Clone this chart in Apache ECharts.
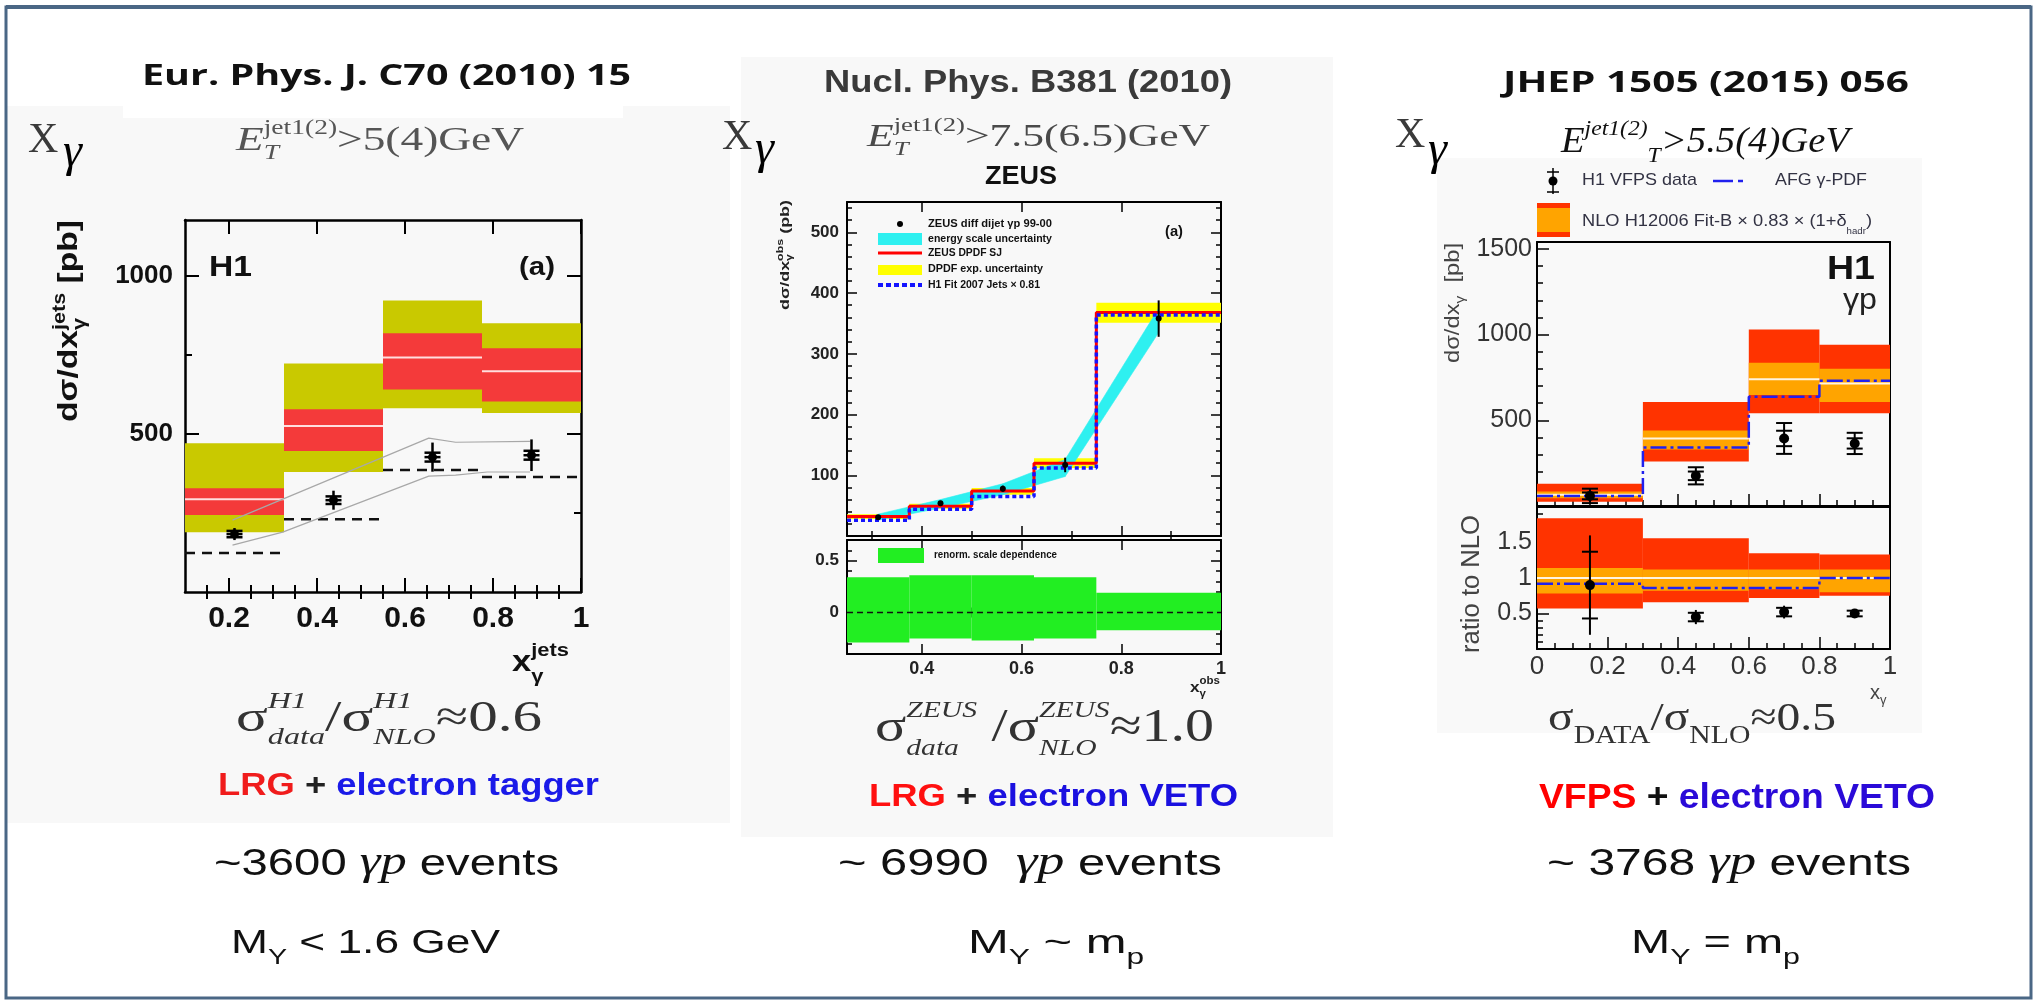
<!DOCTYPE html>
<html>
<head>
<meta charset="utf-8">
<script src="https://cdn.jsdelivr.net/npm/echarts@6/dist/echarts.min.js"></script>
<style>
  html, body { margin: 0; padding: 0; background: #fff; }
  #main { width: 2038px; height: 1002px; }
</style>
</head>
<body>
<div id="main"></div>
<script>
// ---- H1 2010 (EPJ C70) : d sigma / d x_gamma ----
const h1Edges = [0.1, 0.325, 0.55, 0.775, 1.0];
const h1TotLo = [189, 379, 580, 565];     // yellow band
const h1TotHi = [470, 722, 921, 849];
const h1ScaleLo = [243, 445, 640, 602];   // red band
const h1ScaleHi = [328, 577, 817, 770];
const h1Nlo = [293, 524, 741, 697];       // white central line
const h1Dashed = [123, 230, 385, 363];
const h1DataX = [0.2125, 0.4375, 0.6625, 0.8875];
const h1DataY = [183, 290, 426, 432];
const h1ErrTot = [19, 30, 46, 50];
const h1ErrStat = [10, 12, 14, 14];
const h1EnvUpX = [0.208, 0.654, 0.715, 0.884];
const h1EnvUpY = [227, 486, 473, 476];
const h1EnvDnX = [0.208, 0.322, 0.654, 0.715, 0.787, 0.884];
const h1EnvDnY = [148, 189, 366, 369, 379, 379];
const h1XTicks = [0.2, 0.4, 0.6, 0.8, 1];
const h1XMinor = [0.15, 0.25, 0.3, 0.35, 0.45, 0.5, 0.55, 0.65, 0.7, 0.75, 0.85, 0.9, 0.95];
const h1YTicks = [500, 1000];
const h1YMinor = [250, 750];

// ---- ZEUS (NPB 381) ----
const zEdges = [0.25, 0.375, 0.5, 0.625, 0.75, 1.0];
const zDpdf = [32, 49, 74, 120, 368];
const zH1Fit = [26, 44, 65, 112, 364];
const zDpdfLo = [28, 45, 68, 112, 351];
const zDpdfHi = [36, 53, 79, 128, 384];
const zCyanX = [0.3125, 0.4375, 0.5625, 0.6875, 0.875];
const zCyanLo = [26, 46, 68, 98, 335];
const zCyanHi = [36, 60, 86, 126, 375];
const zDataX = [0.3125, 0.4375, 0.5625, 0.6875, 0.875];
const zDataY = [31, 54, 78, 117, 358];
const zDataErr = [3, 4, 5, 12, 30];
const zRenLo = [-0.29, -0.25, -0.27, -0.25, -0.17];
const zRenHi = [0.34, 0.36, 0.36, 0.34, 0.19];
const zXTicks = [0.4, 0.6, 0.8, 1];
const zXMinor = [0.3, 0.5, 0.7, 0.9];
const zYTicks = [100, 200, 300, 400, 500];
const zYMinor = [20, 40, 60, 80, 120, 140, 160, 180, 220, 240, 260, 280, 320, 340, 360, 380, 420, 440, 460, 480, 520, 540];
const zRTicks = [0, 0.5];
const zRMinor = [-0.3, -0.2, -0.1, 0.1, 0.2, 0.3, 0.4, 0.6];

// ---- H1 VFPS (JHEP 1505) ----
const vEdges = [0, 0.3, 0.6, 0.8, 1.0];
const vRedLo = [25, 259, 541, 541];
const vRedHi = [130, 606, 1029, 941];
const vOrgLo = [45, 330, 647, 606];
const vOrgHi = [85, 441, 835, 800];
const vNlo = [65, 394, 740, 715];
const vAfg = [58, 341, 638, 730];
const vDataX = [0.15, 0.45, 0.7, 0.9];
const vDataY = [59, 176, 394, 365];
const vErrTot = [42, 50, 90, 62];
const vErrStat = [20, 25, 45, 30];
const vRatRedLo = [0.57, 0.66, 0.72, 0.75];
const vRatRedHi = [1.84, 1.56, 1.35, 1.33];
const vRatOrgLo = [0.78, 0.82, 0.84, 0.8];
const vRatOrgHi = [1.14, 1.12, 1.12, 1.12];
const vRatNlo = [1, 1, 1, 1];
const vRatAfg = [0.92, 0.86, 0.86, 1.0];
const vRatY = [0.9, 0.45, 0.52, 0.5];
const vRatErrTot = [0.7, 0.1, 0.09, 0.06];
const vRatErrStat = [0.47, 0.06, 0.06, 0.04];
const vXTicks = [0, 0.2, 0.4, 0.6, 0.8, 1];
const vXMinor = [0.05, 0.1, 0.15, 0.25, 0.3, 0.35, 0.45, 0.5, 0.55, 0.65, 0.7, 0.75, 0.85, 0.9, 0.95];
const vYTicks = [500, 1000, 1500];
const vYMinor = [100, 200, 300, 400, 600, 700, 800, 900, 1100, 1200, 1300, 1400];
const vRTicks = [0.5, 1, 1.5];
const vRMinor = [0.1, 0.2, 0.3, 0.4, 0.6, 0.7, 0.8, 0.9, 1.1, 1.2, 1.3, 1.4, 1.6, 1.7, 1.8, 1.9];

const SANS = "'Liberation Sans', Arial, sans-serif";
const SERIF = "'Liberation Serif', 'Times New Roman', serif";
const OPEN = "'Open Sans', 'Noto Sans', sans-serif";

// ---------- axes / grids ----------
const grids = [], xAxes = [], yAxes = [];
function plotBox(box, o) {
  const gi = grids.length;
  grids.push({ left: box[0], top: box[1], width: box[2], height: box[3] });
  const lineOn = { show: true, onZero: false, lineStyle: { color: '#000', width: o.lw } };
  function ax(list, pos, range, ticks, len, lab, showLine) {
    list.push({
      type: 'value', gridIndex: gi, min: range[0], max: range[1], position: pos,
      axisLine: showLine ? lineOn : { show: false },
      axisTick: ticks && ticks.length
        ? { show: true, inside: true, length: len, customValues: ticks, lineStyle: { color: '#000', width: o.tw } }
        : { show: false },
      axisLabel: lab
        ? Object.assign({ show: true, customValues: ticks, fontFamily: SANS, formatter: v => String(v) }, lab)
        : { show: false },
      splitLine: { show: false }
    });
    return list.length - 1;
  }
  const xi = ax(xAxes, 'bottom', o.x, o.xMaj, o.tl, o.xLab, true);
  ax(xAxes, 'bottom', o.x, o.xMin, o.ts, null, false);
  ax(xAxes, 'top', o.x, o.mirror ? o.xMaj : null, o.tl, null, true);
  if (o.mirror) ax(xAxes, 'top', o.x, o.xMin, o.ts, null, false);
  const yi = ax(yAxes, 'left', o.y, o.yMaj, o.tl, o.yLab, true);
  ax(yAxes, 'left', o.y, o.yMin, o.ts, null, false);
  ax(yAxes, 'right', o.y, o.mirror ? o.yMaj : null, o.tl, null, true);
  if (o.mirror) ax(yAxes, 'right', o.y, o.yMin, o.ts, null, false);
  return { xi: xi, yi: yi };
}

const A0 = plotBox([185, 220, 396, 372], {
  x: [0.1, 1.0], y: [0, 1175], xMaj: h1XTicks, xMin: h1XMinor, yMaj: h1YTicks, yMin: h1YMinor,
  tl: 14, ts: 7, lw: 2.5, tw: 2, mirror: true,
  xLab: { fontSize: 30, fontWeight: 'bold', color: '#111', margin: 12 },
  yLab: { fontSize: 26, fontWeight: 'bold', color: '#111', margin: 12 }
});
const A1 = plotBox([847, 202, 374, 334], {
  x: [0.25, 1.0], y: [0, 550], xMaj: zXTicks, xMin: zXMinor, yMaj: zYTicks, yMin: zYMinor,
  tl: 10, ts: 5, lw: 2, tw: 1.5, mirror: true,
  yLab: { fontSize: 17, fontWeight: 'bold', color: '#222', margin: 8 }
});
const A2 = plotBox([847, 540, 374, 114], {
  x: [0.25, 1.0], y: [-0.4, 0.7], xMaj: zXTicks, xMin: zXMinor, yMaj: zRTicks, yMin: zRMinor,
  tl: 10, ts: 5, lw: 2, tw: 1.5, mirror: true,
  xLab: { fontSize: 18, fontWeight: 'bold', color: '#222', margin: 6 },
  yLab: { fontSize: 17, fontWeight: 'bold', color: '#222', margin: 8 }
});
const A3 = plotBox([1537, 242, 353, 264], {
  x: [0, 1], y: [0, 1540], xMaj: vXTicks, xMin: vXMinor, yMaj: vYTicks, yMin: vYMinor,
  tl: 12, ts: 6, lw: 2, tw: 1.5, mirror: false,
  yLab: { fontSize: 25, color: '#333', margin: 5 }
});
const A4 = plotBox([1537, 507, 353, 142], {
  x: [0, 1], y: [0, 2], xMaj: vXTicks, xMin: vXMinor, yMaj: vRTicks, yMin: vRMinor,
  tl: 12, ts: 6, lw: 2, tw: 1.5, mirror: false,
  xLab: { fontSize: 26, color: '#333', margin: 5 },
  yLab: { fontSize: 25, color: '#333', margin: 5 }
});

// ---------- series helpers ----------
function rects(ax, edges, lo, hi, color, z) {
  return {
    type: 'custom', xAxisIndex: ax.xi, yAxisIndex: ax.yi, z: z, silent: true,
    data: lo.map((v, i) => [edges[i], edges[i + 1], v, hi[i]]),
    renderItem: function (p, api) {
      const a = api.coord([api.value(0), api.value(3)]);
      const b = api.coord([api.value(1), api.value(2)]);
      return { type: 'rect', shape: { x: a[0], y: a[1], width: b[0] - a[0], height: b[1] - a[1] }, style: { fill: color } };
    }
  };
}
function levels(ax, edges, vals, color, width, dash, z) {
  return {
    type: 'custom', xAxisIndex: ax.xi, yAxisIndex: ax.yi, z: z, silent: true,
    data: vals.map((v, i) => [edges[i], edges[i + 1], v]),
    renderItem: function (p, api) {
      const a = api.coord([api.value(0), api.value(2)]);
      const b = api.coord([api.value(1), api.value(2)]);
      return { type: 'line', shape: { x1: a[0], y1: a[1], x2: b[0], y2: b[1] },
        style: { stroke: color, lineWidth: width, lineDash: dash || null } };
    }
  };
}
function steps(ax, edges, vals, color, width, dash, z) {
  return {
    type: 'line', xAxisIndex: ax.xi, yAxisIndex: ax.yi, z: z, silent: true, step: 'end',
    symbol: 'none', data: edges.map((e, i) => [e, vals[Math.min(i, vals.length - 1)]]),
    lineStyle: { color: color, width: width, type: dash || 'solid' }
  };
}
function curve(ax, xs, ys, color, width, z) {
  return {
    type: 'line', xAxisIndex: ax.xi, yAxisIndex: ax.yi, z: z, silent: true, symbol: 'none',
    data: xs.map((x, i) => [x, ys[i]]), lineStyle: { color: color, width: width }
  };
}
function points(ax, xs, ys, eT, eS, o) {
  return {
    type: 'custom', xAxisIndex: ax.xi, yAxisIndex: ax.yi, z: 20, silent: true,
    data: xs.map((x, i) => [x, ys[i], eT[i], eS ? eS[i] : 0]),
    renderItem: function (p, api) {
      const x = api.value(0), y = api.value(1), et = api.value(2), es = api.value(3);
      const c = api.coord([x, y]);
      const yT = api.coord([x, y + et])[1], yB = api.coord([x, y - et])[1];
      const st = { stroke: '#000', lineWidth: o.lw };
      const kids = [{ type: 'line', shape: { x1: c[0], y1: yT, x2: c[0], y2: yB }, style: st }];
      const cap = function (yy) {
        kids.push({ type: 'line', shape: { x1: c[0] - o.cap, y1: yy, x2: c[0] + o.cap, y2: yy }, style: st });
      };
      if (o.capTot) { cap(yT); cap(yB); }
      if (es) { cap(api.coord([x, y + es])[1]); cap(api.coord([x, y - es])[1]); }
      if (o.bar) cap(c[1]);
      kids.push({ type: 'circle', shape: { cx: c[0], cy: c[1], r: o.r }, style: { fill: '#000' } });
      return { type: 'group', children: kids };
    }
  };
}

const series = [
  // H1 2010
  rects(A0, h1Edges, h1TotLo, h1TotHi, '#c9c900', 2),
  rects(A0, h1Edges, h1ScaleLo, h1ScaleHi, '#f43a3a', 3),
  levels(A0, h1Edges, h1Nlo, '#ffdede', 2, null, 4),
  levels(A0, h1Edges, h1Dashed, '#111', 2.5, [10, 7], 5),
  curve(A0, h1EnvUpX, h1EnvUpY, '#a8a8a8', 1.2, 5),
  curve(A0, h1EnvDnX, h1EnvDnY, '#a8a8a8', 1.2, 5),
  points(A0, h1DataX, h1DataY, h1ErrTot, h1ErrStat, { lw: 2.5, cap: 8, r: 4.5, bar: true }),
  // ZEUS upper
  rects(A1, zEdges, zDpdfLo, zDpdfHi, '#ffff00', 2),
  {
    type: 'custom', xAxisIndex: A1.xi, yAxisIndex: A1.yi, z: 3, silent: true,
    data: zCyanX.slice(1).map((x, i) => [zCyanX[i], zCyanLo[i], zCyanHi[i], x, zCyanLo[i + 1], zCyanHi[i + 1]]),
    renderItem: function (p, api) {
      return { type: 'polygon', shape: { points: [
        api.coord([api.value(0), api.value(1)]), api.coord([api.value(3), api.value(4)]),
        api.coord([api.value(3), api.value(5)]), api.coord([api.value(0), api.value(2)])] },
        style: { fill: '#2ef0f0', stroke: '#2ef0f0', lineWidth: 0.6 } };
    }
  },
  steps(A1, zEdges, zDpdf, '#ff0000', 3, 'solid', 4),
  steps(A1, zEdges, zH1Fit, '#1414ff', 3.5, [4, 3], 5),
  points(A1, zDataX, zDataY, zDataErr, null, { lw: 2, cap: 0, r: 3 }),
  // ZEUS lower
  rects(A2, zEdges, zRenLo, zRenHi, '#22ee22', 2),
  levels(A2, [0.25, 1.0], [0], '#111', 1.5, [6, 4], 4),
  // VFPS upper
  rects(A3, vEdges, vRedLo, vRedHi, '#ff3300', 2),
  rects(A3, vEdges, vOrgLo, vOrgHi, '#ffa400', 3),
  levels(A3, vEdges, vNlo, '#fff4e0', 2, null, 4),
  steps(A3, vEdges, vAfg, '#2020ee', 2.5, [16, 4, 3, 4], 5),
  points(A3, vDataX, vDataY, vErrTot, vErrStat, { lw: 2, cap: 8, r: 5, capTot: true }),
  // VFPS ratio
  rects(A4, vEdges, vRatRedLo, vRatRedHi, '#ff3300', 2),
  rects(A4, vEdges, vRatOrgLo, vRatOrgHi, '#ffa400', 3),
  levels(A4, vEdges, vRatNlo, '#fff4e0', 2, null, 4),
  steps(A4, vEdges, vRatAfg, '#2020ee', 2.5, [16, 4, 3, 4], 5),
  points(A4, vDataX, vRatY, vRatErrTot, vRatErrStat, { lw: 2, cap: 8, r: 5 })
];

// ---------- text helpers ----------
const cv = document.createElement('canvas').getContext('2d');
function fontOf(p) {
  return (p.i ? 'italic ' : '') + (p.b ? 'bold ' : '') + p.s + 'px ' + (p.ff || SANS);
}
// x, y: left end and baseline; parts laid out in a row, stretched to width w
function textRow(x, y, parts, w, base, extra) {
  if (typeof parts === 'string') parts = [{ t: parts }];
  let cx = 0, pend = 0;
  const kids = [];
  parts.forEach(function (q) {
    const p = Object.assign({ s: 20, c: '#000' }, base || {}, q);
    const f = fontOf(p);
    cv.font = f;
    const tw = cv.measureText(p.t).width;
    kids.push({ type: 'text', x: cx, y: (p.dy || 0) - 0.34 * p.s, z: 50, silent: true,
      style: { text: p.t, font: f, fill: p.c, textAlign: 'left', textVerticalAlign: 'middle' } });
    if (p.stack) pend = Math.max(pend, tw);
    else { cx += Math.max(tw, pend); pend = 0; }
  });
  const sx = w ? w / cx : 1;
  return Object.assign({ type: 'group', x: x, y: y, scaleX: sx, z: 50, silent: true, children: kids }, extra || {});
}
const ROT = { rotation: Math.PI / 2 };
const gfx = [];
function rect(x, y, w, h, fill, z) {
  gfx.push({ type: 'rect', z: z, silent: true, shape: { x: x, y: y, width: w, height: h }, style: { fill: fill } });
}
function seg(x1, y1, x2, y2, stroke, lw, dash) {
  gfx.push({ type: 'line', z: 40, silent: true, shape: { x1: x1, y1: y1, x2: x2, y2: y2 },
    style: { stroke: stroke, lineWidth: lw, lineDash: dash || null } });
}

// panel backgrounds
rect(7, 106, 723, 717, '#f8f8f8', -10);
rect(123, 100, 500, 18, '#ffffff', -9);
rect(741, 57, 592, 780, '#f8f8f8', -10);
rect(1437, 158, 485, 575, '#f9f9f9', -10);

// ---- panel 1 texts
gfx.push(textRow(142, 87, 'Eur. Phys. J. C70 (2010) 15', 489, { s: 28, b: 1, ff: OPEN, c: '#111' }));
gfx.push(textRow(28, 155, 'X', 0, { s: 42, ff: SERIF, c: '#3a3a3a' }));
gfx.push(textRow(63, 170, 'γ', 0, { s: 48, i: 1, ff: SERIF, c: '#000' }));
gfx.push(textRow(236, 153, [{ t: 'E', i: 1 }, { t: 'jet1(2)', s: 20, dy: -17, stack: 1 }, { t: 'T', s: 20, i: 1, dy: 8 }, { t: '>5(4)GeV' }],
  288, { s: 33, ff: SERIF, c: '#555' }));
gfx.push(textRow(209, 278, 'H1', 43, { s: 30, b: 1, c: '#111' }));
gfx.push(textRow(519, 277, '(a)', 36, { s: 26, b: 1, c: '#111' }));
gfx.push(textRow(79, 422, [{ t: 'dσ/dx' }, { t: 'γ', s: 18, dy: 7, stack: 1 }, { t: 'jets', s: 18, dy: -13 }, { t: ' [pb]' }],
  202, { s: 28, b: 1, c: '#111' }, ROT));
gfx.push(textRow(512, 673, [{ t: 'x', s: 30 }, { t: 'jets', s: 19, dy: -16, stack: 1 }, { t: 'γ', s: 19, dy: 10 }],
  57, { b: 1, c: '#111' }));
gfx.push(textRow(236, 734, [{ t: 'σ' }, { t: 'H1', s: 24, i: 1, dy: -24, stack: 1 }, { t: 'data', s: 24, i: 1, dy: 12 },
  { t: '/' }, { t: 'σ' }, { t: 'H1', s: 24, i: 1, dy: -24, stack: 1 }, { t: 'NLO', s: 24, i: 1, dy: 12 }, { t: '≈0.6' }],
  306, { s: 44, ff: SERIF, c: '#333' }));
gfx.push(textRow(218, 797, [{ t: 'LRG', c: '#f01c1c' }, { t: ' + ', c: '#222' }, { t: 'electron tagger', c: '#1a1ae8' }],
  381, { s: 31, b: 1 }));

// ---- panel 2 texts
gfx.push(textRow(824, 94, 'Nucl. Phys. B381 (2010)', 408, { s: 31, b: 1, c: '#3a3a3a' }));
gfx.push(textRow(722, 152, 'X', 0, { s: 42, ff: SERIF, c: '#3a3a3a' }));
gfx.push(textRow(755, 167, 'γ', 0, { s: 48, i: 1, ff: SERIF, c: '#000' }));
gfx.push(textRow(867, 148, [{ t: 'E', i: 1 }, { t: 'jet1(2)', s: 19, dy: -16, stack: 1 }, { t: 'T', s: 19, i: 1, dy: 8 }, { t: '>7.5(6.5)GeV' }],
  343, { s: 31, ff: SERIF, c: '#4a4a4a' }));
gfx.push(textRow(985, 186, 'ZEUS', 72, { s: 26, b: 1, c: '#111' }));
gfx.push(textRow(1165, 237, '(a)', 18, { s: 14, b: 1, c: '#111' }));
gfx.push(textRow(790, 310, [{ t: 'dσ/dx' }, { t: 'γ', s: 9, dy: 3, stack: 1 }, { t: 'obs', s: 9, dy: -6 }, { t: ' (pb)' }],
  110, { s: 13, b: 1, c: '#222' }, ROT));
gfx.push(textRow(1190, 693, [{ t: 'x', s: 15 }, { t: 'obs', s: 10, dy: -8, stack: 1 }, { t: 'γ', s: 10, dy: 5 }], 30, { b: 1, c: '#222' }));
// ZEUS legend
gfx.push({ type: 'circle', z: 40, silent: true, shape: { cx: 900, cy: 224, r: 3 }, style: { fill: '#000' } });
rect(878, 233, 44, 12, '#2ef0f0', 40);
seg(878, 253, 922, 253, '#ff0000', 3);
rect(878, 265, 44, 10, '#ffff00', 40);
seg(878, 285, 922, 285, '#1414ff', 4, [5, 3]);
rect(878, 548, 46, 15, '#22ee22', 40);
const zLeg = [['ZEUS diff dijet γp 99-00', 228, 124], ['energy scale uncertainty', 243, 124], ['ZEUS DPDF SJ', 257, 74],
  ['DPDF exp. uncertainty', 273, 115], ['H1 Fit 2007 Jets × 0.81', 289, 112]];
zLeg.forEach(function (l) { gfx.push(textRow(928, l[1], l[0], l[2], { s: 11, b: 1, c: '#111' })); });
gfx.push(textRow(934, 559, 'renorm. scale dependence', 123, { s: 10, b: 1, c: '#111' }));
gfx.push(textRow(875, 745, [{ t: 'σ' }, { t: 'ZEUS', s: 24, i: 1, dy: -26, stack: 1 }, { t: 'data', s: 24, i: 1, dy: 12 },
  { t: ' /' }, { t: 'σ' }, { t: 'ZEUS', s: 24, i: 1, dy: -26, stack: 1 }, { t: 'NLO', s: 24, i: 1, dy: 12 }, { t: '≈1.0' }],
  339, { s: 47, ff: SERIF, c: '#333' }));
gfx.push(textRow(869, 808, [{ t: 'LRG', c: '#ff1010' }, { t: ' + ', c: '#222' }, { t: 'electron VETO', c: '#1a10e0' }],
  369, { s: 32, b: 1 }));

// ---- panel 3 texts
gfx.push(textRow(1503, 94, 'JHEP 1505 (2015) 056', 406, { s: 29, b: 1, ff: OPEN, c: '#111' }));
gfx.push(textRow(1395, 150, 'X', 0, { s: 42, ff: SERIF, c: '#3a3a3a' }));
gfx.push(textRow(1428, 168, 'γ', 0, { s: 48, i: 1, ff: SERIF, c: '#000' }));
gfx.push(textRow(1561, 155, [{ t: 'E' }, { t: 'jet1(2)', s: 22, dy: -18 }, { t: 'T', s: 22, dy: 9 }, { t: '>5.5(4)GeV' }],
  288, { s: 36, i: 1, ff: SERIF, c: '#111' }));
// VFPS legend
seg(1553, 168, 1553, 194, '#000', 1.5);
seg(1547, 172, 1559, 172, '#000', 1.5);
seg(1547, 192, 1559, 192, '#000', 1.5);
gfx.push({ type: 'circle', z: 40, silent: true, shape: { cx: 1553, cy: 181, r: 4.5 }, style: { fill: '#000' } });
seg(1713, 181, 1733, 181, '#2020ee', 2.5);
seg(1738, 181, 1743, 181, '#2020ee', 2.5);
rect(1537, 203, 33, 34, '#ff3300', 40);
rect(1537, 208, 33, 24, '#ffa400', 41);
seg(1537, 220, 1570, 220, '#fff4e0', 2);
gfx.push(textRow(1582, 186, 'H1 VFPS data', 115, { s: 17, c: '#333344' }));
gfx.push(textRow(1775, 186, 'AFG γ-PDF', 92, { s: 17, c: '#333344' }));
gfx.push(textRow(1582, 227, [{ t: 'NLO H12006 Fit-B × 0.83 × (1+δ' }, { t: 'hadr', s: 9, dy: 8 }, { t: ')' }],
  290, { s: 17, c: '#333344' }));
gfx.push(textRow(1827, 281, 'H1', 48, { s: 34, b: 1, c: '#111' }));
gfx.push(textRow(1843, 311, 'γp', 34, { s: 30, c: '#222' }));
gfx.push(textRow(1460, 363, [{ t: 'dσ/dx' }, { t: 'γ', s: 13, dy: 5 }, { t: '  [pb]' }], 120, { s: 20, c: '#444' }, ROT));
gfx.push(textRow(1481, 653, 'ratio to NLO', 138, { s: 25, c: '#444' }, ROT));
gfx.push(textRow(1870, 700, [{ t: 'x', s: 20 }, { t: 'γ', s: 13, dy: 5 }], 0, { c: '#444' }));
gfx.push(textRow(1548, 733, [{ t: 'σ' }, { t: 'DATA', s: 25, dy: 12 }, { t: '/' }, { t: 'σ' }, { t: 'NLO', s: 25, dy: 12 }, { t: '≈0.5' }],
  288, { s: 40, ff: SERIF, c: '#333' }));
gfx.push(textRow(1539, 810, [{ t: 'VFPS', c: '#ff0000' }, { t: ' + ', c: '#111' }, { t: 'electron VETO', c: '#2a0ad8' }],
  396, { s: 35, b: 1 }));

// ---- bottom lines
const gp = { t: 'γp', i: 1, ff: SERIF, s: 40 };
gfx.push(textRow(214, 877, [{ t: '~3600 ' }, gp, { t: ' events' }], 345, { s: 36, c: '#111' }));
gfx.push(textRow(838, 877, [{ t: '~ 6990  ' }, gp, { t: ' events' }], 384, { s: 36, c: '#111' }));
gfx.push(textRow(1547, 877, [{ t: '~ 3768 ' }, gp, { t: ' events' }], 364, { s: 36, c: '#111' }));
gfx.push(textRow(231, 955, [{ t: 'M' }, { t: 'Y', s: 22, dy: 10 }, { t: ' < 1.6 GeV' }], 269, { s: 34, c: '#111' }));
gfx.push(textRow(968, 955, [{ t: 'M' }, { t: 'Y', s: 22, dy: 10 }, { t: ' ~ m' }, { t: 'p', s: 22, dy: 10 }], 176, { s: 34, c: '#111' }));
gfx.push(textRow(1631, 955, [{ t: 'M' }, { t: 'Y', s: 22, dy: 10 }, { t: ' = m' }, { t: 'p', s: 22, dy: 10 }], 169, { s: 34, c: '#111' }));

// slide frame
gfx.push({ type: 'rect', z: 100, silent: true, shape: { x: 6, y: 7, width: 2025, height: 991 },
  style: { fill: 'none', stroke: '#4a6785', lineWidth: 3 } });
seg(6, 7, 2031, 7, '#4a6785', 4);

const chart = echarts.init(document.getElementById('main'));
chart.setOption({
  animation: false,
  backgroundColor: '#ffffff',
  grid: grids,
  xAxis: xAxes,
  yAxis: yAxes,
  series: series,
  graphic: { elements: gfx }
});
</script>
</body>
</html>
